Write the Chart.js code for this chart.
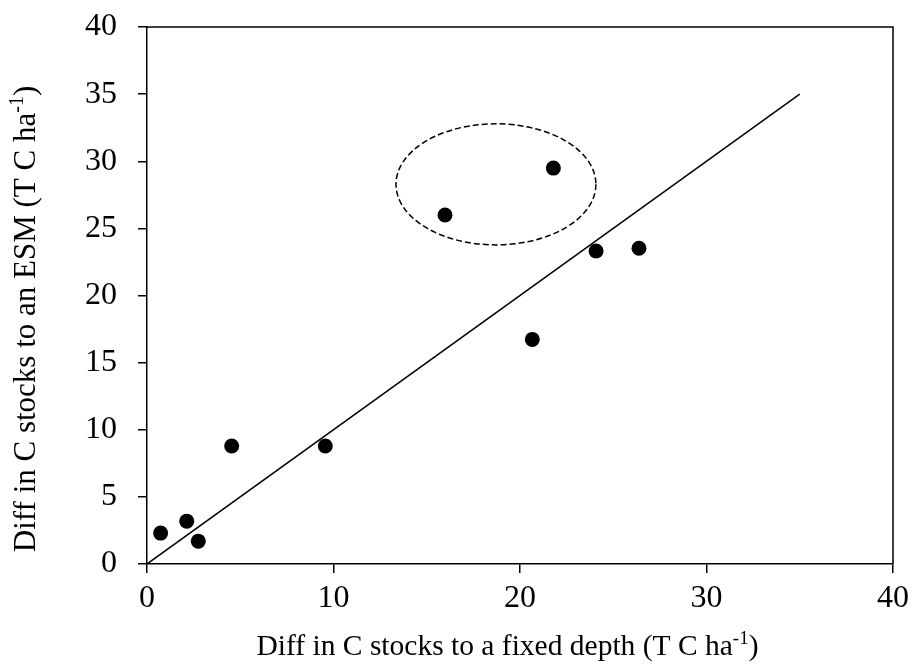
<!DOCTYPE html>
<html><head><meta charset="utf-8">
<script src="https://cdn.jsdelivr.net/npm/chart.js@4/dist/chart.umd.min.js"></script>
<style>html,body{margin:0;padding:0;background:#fff}#wrap{width:915px;height:664px}</style>
</head><body><div id="wrap"><canvas id="c" width="915" height="664"></canvas></div>
<script>
// Data
const xValues = [0.73, 2.13, 2.75, 4.54, 9.56, 15.98, 21.79, 24.08, 26.38, 20.66];
const yValues = [2.30, 3.19, 1.70, 8.79, 8.79, 26.00, 29.49, 23.32, 23.52, 16.73];
const lineX = [0, 35];
const lineY = [0, 35];
const xTickValues = [0, 10, 20, 30, 40];
const yTickValues = [0, 5, 10, 15, 20, 25, 30, 35, 40];
const ellipseCenter = [18.71, 28.28];
const ellipseRadii = [5.36, 4.51];
const xTitleParts = ["Diff in C stocks to a fixed depth (T C ha", "-1", ")"];
const yTitleParts = ["Diff in C stocks to an ESM (T C ha", "-1", ")"];

const FONT = "'Liberation Serif', 'Times New Roman', serif";
const X_TITLE_SIZE = 29.5;
const Y_TITLE_SIZE = 31;
const TICK_SIZE = 32;

const points = xValues.map((x, i) => ({x: x, y: yValues[i]}));
const linePts = lineX.map((x, i) => ({x: x, y: lineY[i]}));

function measureSupText(ctx, parts, size) {
  ctx.font = size + "px " + FONT;
  const w0 = ctx.measureText(parts[0]).width;
  ctx.font = Math.round(size * 0.65) + "px " + FONT;
  const w1 = ctx.measureText(parts[1]).width;
  ctx.font = size + "px " + FONT;
  const w2 = ctx.measureText(parts[2]).width;
  return {w0, w1, w2, total: w0 + w1 + w2};
}
function renderSupText(ctx, parts, size, startX, baseY) {
  const m = measureSupText(ctx, parts, size);
  ctx.textBaseline = 'alphabetic';
  ctx.textAlign = 'left';
  ctx.font = size + "px " + FONT;
  ctx.fillText(parts[0], startX, baseY);
  ctx.font = Math.round(size * 0.65) + "px " + FONT;
  ctx.fillText(parts[1], startX + m.w0, baseY - size * 0.38);
  ctx.font = size + "px " + FONT;
  ctx.fillText(parts[2], startX + m.w0 + m.w1, baseY);
}

const decor = {
  id: 'decor',
  afterDatasetsDraw(chart) {
    const ctx = chart.ctx;
    const xs = chart.scales.x, ys = chart.scales.y;
    const cx = xs.getPixelForValue(ellipseCenter[0]);
    const cy = ys.getPixelForValue(ellipseCenter[1]);
    const rx = Math.abs(xs.getPixelForValue(ellipseCenter[0] + ellipseRadii[0]) - cx);
    const ry = Math.abs(ys.getPixelForValue(ellipseCenter[1] + ellipseRadii[1]) - cy);
    ctx.save();
    ctx.strokeStyle = '#000';
    ctx.lineWidth = 1.5;
    ctx.setLineDash([6, 3]);
    ctx.beginPath();
    ctx.ellipse(cx, cy, rx, ry, 0, 0, Math.PI * 2);
    ctx.stroke();
    ctx.restore();
  },
  afterDraw(chart) {
    const ctx = chart.ctx;
    const a = chart.chartArea;
    ctx.save();
    ctx.strokeStyle = '#000';
    ctx.lineWidth = 1.5;
    ctx.beginPath();
    ctx.moveTo(a.left, a.top);
    ctx.lineTo(a.right, a.top);
    ctx.lineTo(a.right, a.bottom);
    ctx.stroke();
    ctx.fillStyle = '#000';
    const mx = measureSupText(ctx, xTitleParts, X_TITLE_SIZE);
    renderSupText(ctx, xTitleParts, X_TITLE_SIZE, 507.5 - mx.total / 2, 655);
    const my = measureSupText(ctx, yTitleParts, Y_TITLE_SIZE);
    ctx.translate(35, 319);
    ctx.rotate(-Math.PI / 2);
    renderSupText(ctx, yTitleParts, Y_TITLE_SIZE, -my.total / 2, 0);
    ctx.restore();
  }
};

new Chart(document.getElementById('c'), {
  type: 'scatter',
  data: {
    datasets: [
      {
        type: 'line',
        data: linePts,
        borderColor: '#000',
        borderWidth: 1.5,
        pointRadius: 0,
        fill: false,
        tension: 0
      },
      {
        type: 'scatter',
        data: points,
        backgroundColor: '#000',
        borderColor: '#000',
        borderWidth: 0,
        pointRadius: 7.5,
        pointHoverRadius: 7.5
      }
    ]
  },
  options: {
    responsive: false,
    devicePixelRatio: 1,
    animation: false,
    events: [],
    layout: {padding: {top: 27, right: 22, left: 0, bottom: 0}},
    plugins: {legend: {display: false}, tooltip: {enabled: false}},
    scales: {
      x: {
        type: 'linear',
        min: 0, max: 40,
        afterBuildTicks: s => { s.ticks = xTickValues.map(v => ({value: v})); },
        afterFit: s => { s.height = 100; s.paddingLeft = 0; s.paddingRight = 0; s.paddingTop = 0; s.paddingBottom = 0; },
        border: {display: true, color: '#000', width: 1.5},
        grid: {display: true, drawOnChartArea: false, drawTicks: true, tickLength: 9, color: '#000', lineWidth: 1.5},
        ticks: {color: '#000', font: {family: FONT, size: TICK_SIZE}, padding: 6, maxRotation: 0}
      },
      y: {
        type: 'linear',
        min: 0, max: 40,
        afterBuildTicks: s => { s.ticks = yTickValues.map(v => ({value: v})); },
        afterFit: s => { s.width = 147; s.paddingLeft = 0; s.paddingRight = 0; s.paddingTop = 0; s.paddingBottom = 0; },
        border: {display: true, color: '#000', width: 1.5},
        grid: {display: true, drawOnChartArea: false, drawTicks: true, tickLength: 9, color: '#000', lineWidth: 1.5},
        ticks: {color: '#000', font: {family: FONT, size: TICK_SIZE}, padding: 21}
      }
    }
  },
  plugins: [decor]
});
</script>
</body></html>
